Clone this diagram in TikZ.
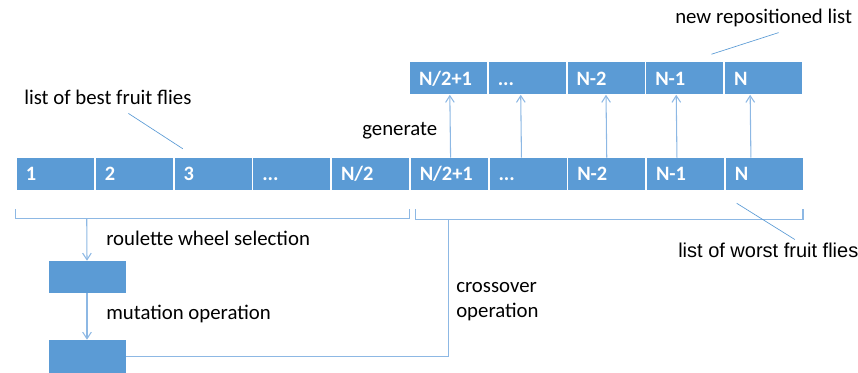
\documentclass[tikz,border=0pt]{standalone}
\usepackage{fontspec}
\setmainfont{Carlito}
\newfontfamily\arialfont{Liberation Sans}
\usetikzlibrary{arrows.meta, positioning, calc}
\definecolor{cellblue}{HTML}{5B9BD5}
\definecolor{wireblue}{HTML}{8DB8E4}

\begin{document}
\begin{tikzpicture}[x=0.75pt, y=-0.75pt,
        cell/.style={rectangle, fill=cellblue, text=white, font=\fontsize{15.3}{18}\selectfont\bfseries, minimum height=24pt, text width=44.25pt, inner xsep=6.75pt, inner ysep=0pt, text height=10pt, text depth=0pt, align=left},
        lbl/.style={font=\fontsize{15.6}{18.75}\selectfont, inner sep=0pt, anchor=base west, align=left},
        wire/.style={draw=wireblue, line width=0.8pt},
        lead/.style={draw=cellblue, line width=0.5pt},
        arrow/.style={wire, -{Straight Barb[length=5pt, width=6.5pt]}}
    ]
        \useasboundingbox (0,0) rectangle (858,373);

        % Fila inferior: lista completa
        \node [cell] (b1) at (55.5, 174) {1};
        \node [cell] (b2) at (134.25, 174) {2};
        \node [cell] (b3) at (213, 174) {3};
        \node [cell] (b4) at (291.75, 174) {...};
        \node [cell] (b5) at (370.5, 174) {N/2};
        \node [cell] (b6) at (449.25, 174) {N/2+1};
        \node [cell] (b7) at (528, 174) {...};
        \node [cell] (b8) at (606.75, 174) {N-2};
        \node [cell] (b9) at (685.5, 174) {N-1};
        \node [cell] (b10) at (764.25, 174) {N};

        % Fila superior: lista reposicionada
        \node [cell] (t1) at (448.5, 78.5) {N/2+1};
        \node [cell] (t2) at (527.25, 78.5) {...};
        \node [cell] (t3) at (606, 78.5) {N-2};
        \node [cell] (t4) at (684.75, 78.5) {N-1};
        \node [cell] (t5) at (763.5, 78.5) {N};

        % Bloques de seleccion y mutacion
        \node [cell] (sA) at (87, 277) {};
        \node [cell, minimum height=24.75pt] (sB) at (87, 356.5) {};

        % Textos
        \node [lbl] (lbest) at (24, 105) {list of best fruit flies};
        \node [lbl] (lgen) at (362, 136) {generate};
        \node [lbl] (lnew) at (675, 24) {new repositioned list};
        \node [lbl, font=\fontsize{15}{18}\selectfont\arialfont] (lworst) at (678, 258) {list of worst fruit flies};
        \node [lbl] (lsel) at (106, 246) {roulette wheel selection};
        \node [lbl] (lmut) at (106, 320) {mutation operation};
        \node [lbl] (lcross) at (456, 318) {crossover\\operation};

        % Llaves bajo la fila inferior
        \draw [wire] ($(b1.south west)+(-1,19)$) -- ++(0,9) -- ($(b5.south east)+(0,28)$) -- ++(0,-9);
        \draw [wire] ($(b6.south west)+(5,19)$) -- ++(0,10) -- ($(b10.south east)+(0,29)$) -- ++(0,-10);
        \coordinate (bestbr) at ($(b1.south west)+(70,28)$);
        \coordinate (worstbr) at ($(b6.south west)+(38,29)$);

        % Flujo: seleccion, mutacion, cruce
        \draw [arrow] (bestbr) -- (sA.north);
        \draw [arrow] (sA.south) -- (sB.north);
        \draw [wire] (sB.east) -| (worstbr);

        % Flechas de generacion
        \draw [arrow] ([xshift=1pt]b6.north) -- ([xshift=1pt]t1.south);
        \draw [arrow] ([xshift=-4.9pt]b7.north) -- ([xshift=-4.9pt]t2.south);
        \draw [arrow] (b8.north) -- (t3.south);
        \draw [arrow] ([xshift=-6.4pt]b9.north) -- ([xshift=-6.4pt]t4.south);
        \draw [arrow] ([xshift=-10pt]b10.north) -- ([xshift=-10pt]t5.south);

        % Lineas de referencia de las etiquetas
        \draw [lead] ([xshift=15.4pt, yshift=-6pt]lbest.south) -- ([xshift=6.4pt, yshift=6.75pt]b3.north west);
        \draw [lead] ([xshift=11.25pt, yshift=-3.75pt]lnew.south) -- ([xshift=-9pt, yshift=6pt]t4.north east);
        \draw [lead] ([xshift=19.9pt, yshift=2.8pt]lworst.north) -- ([xshift=8.4pt, yshift=-9.75pt]b10.south west);
    \end{tikzpicture}
\end{document}
